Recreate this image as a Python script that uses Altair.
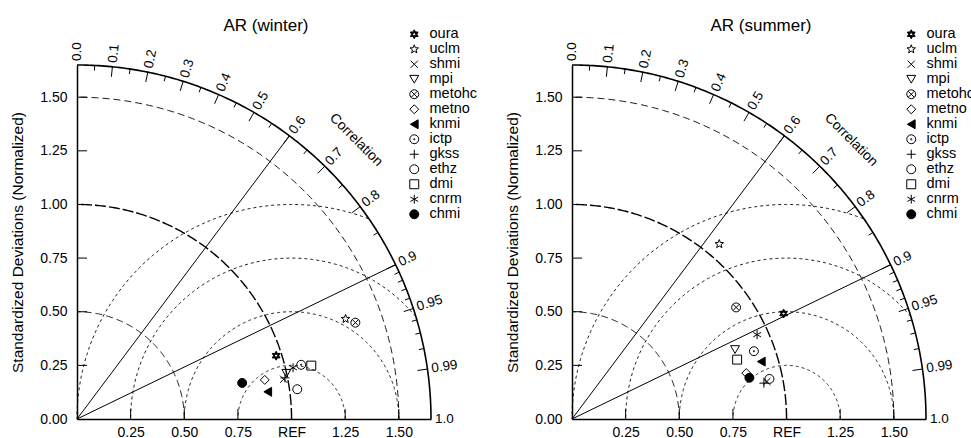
import math
import altair as alt
import pandas as pd

FONT = "Liberation Sans"
R = 1.65  # outer radius of the Taylor diagram (data units)

# ---------------- data ----------------
models = ["oura", "uclm", "shmi", "mpi", "metohc", "metno", "knmi",
          "ictp", "gkss", "ethz", "dmi", "cnrm", "chmi"]

winter_std = [0.974, 1.336, 0.981, 0.999, 1.373, 0.894, 0.898,
              1.075, 0.988, 1.036, 1.120, 1.035, 0.788]
winter_corr = [0.953, 0.937, 0.982, 0.977, 0.945, 0.979, 0.990,
               0.972, 0.981, 0.991, 0.975, 0.973, 0.977]

summer_std = [1.102, 1.066, 0.925, 0.826, 0.925, 0.840, 0.922,
              0.905, 0.910, 0.939, 0.818, 0.948, 0.849]
summer_corr = [0.895, 0.644, 0.982, 0.920, 0.827, 0.967, 0.957,
               0.937, 0.983, 0.980, 0.941, 0.910, 0.974]

std_arcs_thin = [0.5, 1.5]
std_arc_ref = [1.0]
rms_arcs = [0.25, 0.5, 0.75, 1.0]
radial_corr = [0.6, 0.9]
major_corr = [0.1, 0.2, 0.3, 0.4, 0.5, 0.6, 0.7, 0.8, 0.9, 0.95, 0.99]
minor_corr = [0.05, 0.15, 0.25, 0.35, 0.45, 0.55, 0.65, 0.75, 0.85,
              0.91, 0.92, 0.93, 0.94, 0.96, 0.97, 0.98]
label_corr = [0.0, 0.1, 0.2, 0.3, 0.4, 0.5, 0.6, 0.7, 0.8, 0.9, 0.95, 0.99, 1.0]
label_text = ["0.0", "0.1", "0.2", "0.3", "0.4", "0.5", "0.6", "0.7", "0.8",
              "0.9", "0.95", "0.99", "1.0"]
x_ticks = [0.25, 0.5, 0.75, 1.0, 1.25, 1.5]
y_ticks = [0.0, 0.25, 0.5, 0.75, 1.0, 1.25, 1.5]

# ---------------- marker shapes ----------------
def _poly(points):
    return "M" + "L".join(f"{x:.3f},{y:.3f}" for x, y in points) + "Z"

# bold hexagram: star outline with a reversed inner hexagon as a hole
_outer = []
for i in range(6):
    a1 = math.radians(-90 + 60 * i)
    a2 = math.radians(-60 + 60 * i)
    _outer.append((math.cos(a1), math.sin(a1)))
    _outer.append((0.577 * math.cos(a2), 0.577 * math.sin(a2)))
_hole = [(0.36 * math.cos(math.radians(-60 + 60 * i)),
          0.36 * math.sin(math.radians(-60 + 60 * i))) for i in range(6)][::-1]
HEX = _poly(_outer) + _poly(_hole)

_star = []
for i in range(10):
    a = -math.pi / 2 + i * math.pi / 5
    rr = 1.0 if i % 2 == 0 else 0.42
    _star.append((rr * math.cos(a), rr * math.sin(a)))
STAR = _poly(_star)
XMARK = "M-0.8,-0.8L0.8,0.8M-0.8,0.8L0.8,-0.8"
CIRC = "M-1,0A1,1,0,1,0,1,0A1,1,0,1,0,-1,0Z"
CIRCX = CIRC + "M-0.68,-0.68L0.68,0.68M-0.68,0.68L0.68,-0.68"
CIRCDOT = CIRC + "M-0.15,0A0.15,0.15,0,1,0,0.15,0A0.15,0.15,0,1,0,-0.15,0Z"
PLUS = "M-1,0L1,0M0,-1L0,1"
ASTER = "M0,-1L0,1M-0.866,-0.5L0.866,0.5M-0.866,0.5L0.866,-0.5"

shape_range = [HEX, STAR, XMARK, "triangle-down", CIRCX, "diamond",
               "triangle-left", CIRCDOT, PLUS, "circle", "square", ASTER, "circle"]
fill_range = ["black", "transparent", "transparent", "transparent",
              "transparent", "transparent", "black", "transparent",
              "transparent", "transparent", "transparent", "transparent", "black"]
stroke_range = ["black"] * len(models)

XS = alt.Scale(domain=[0, R], nice=False, zero=False)
YS = alt.Scale(domain=[0, R], nice=False, zero=False)

XAXIS = alt.Axis(values=x_ticks, ticks=False, grid=False, title=None,
                 labelExpr="datum.value == 1 ? 'REF' : format(datum.value, '.2f')",
                 labelFont=FONT, labelFontSize=14, labelColor="black",
                 labelPadding=6, domainColor="black", domainWidth=1.5,
                 labelFlush=False, labelOverlap=False)
YAXIS = alt.Axis(values=y_ticks, ticks=False, grid=False, format=".2f",
                 title="Standardized Deviations (Normalized)",
                 titleFont=FONT, titleFontSize=15.5, titleFontWeight="normal",
                 titleColor="black", titlePadding=14,
                 labelFont=FONT, labelFontSize=14, labelColor="black",
                 labelPadding=10, domainColor="black", domainWidth=1.5,
                 labelFlush=False, labelOverlap=False)


def xy(xf, yf):
    return dict(x=alt.X(xf, type="quantitative", scale=XS, axis=XAXIS),
                y=alt.Y(yf, type="quantitative", scale=YS, axis=YAXIS))


def arc_layer(radii, width, dash, steps=180):
    ch = alt.Chart(pd.DataFrame({"r": radii})).transform_calculate(
        k=f"sequence(0, {steps + 1})"
    ).transform_flatten(["k"]).transform_calculate(
        t=f"datum.k*PI/(2*{steps})",
        x="datum.r*cos(datum.t)",
        y="datum.r*sin(datum.t)",
    )
    kw = dict(color="black", strokeWidth=width)
    if dash:
        kw["strokeDash"] = dash
    return ch.mark_line(**kw).encode(**xy("x", "y"), detail="r:N", order="k:Q")


def panel(title, std, corr, legend_x):
    outer = arc_layer([R], 1.6, None)
    thin = arc_layer(std_arcs_thin, 0.9, [7, 4])
    ref = arc_layer(std_arc_ref, 1.4, [11, 3])

    rms = alt.Chart(pd.DataFrame({"r": rms_arcs})).transform_calculate(
        k="sequence(0, 361)"
    ).transform_flatten(["k"]).transform_calculate(
        t="datum.k*PI/360",
        x="1 + datum.r*cos(datum.t)",
        y="datum.r*sin(datum.t)",
    ).transform_filter(f"datum.x*datum.x + datum.y*datum.y <= {R*R}").mark_line(
        color="black", strokeWidth=0.9, strokeDash=[3, 3]
    ).encode(**xy("x", "y"), detail="r:N", order="k:Q")

    radial = alt.Chart(pd.DataFrame({"c": radial_corr})).transform_calculate(
        x0="0", y0="0",
        x1=f"{R}*datum.c", y1=f"{R}*sqrt(1-datum.c*datum.c)",
    ).mark_rule(color="black", strokeWidth=1).encode(
        **xy("x0", "y0"), x2="x1:Q", y2="y1:Q")

    def tick_layer(vals, length):
        return alt.Chart(pd.DataFrame({"c": vals})).transform_calculate(
            s="sqrt(1-datum.c*datum.c)",
            x0=f"{R}*datum.c", y0=f"{R}*datum.s",
            x1=f"{R - length}*datum.c", y1=f"{R - length}*datum.s",
        ).mark_rule(color="black", strokeWidth=1).encode(
            **xy("x0", "y0"), x2="x1:Q", y2="y1:Q")

    major = tick_layer(major_corr, 0.047)
    minor = tick_layer(minor_corr, 0.024)

    xt = alt.Chart(pd.DataFrame({"v": x_ticks})).transform_calculate(
        y0="0", y1="0.047").mark_rule(color="black", strokeWidth=1).encode(
        **xy("v", "y0"), y2="y1:Q")
    yt = alt.Chart(pd.DataFrame({"v": y_ticks[1:]})).transform_calculate(
        x0="0", x1="0.047").mark_rule(color="black", strokeWidth=1).encode(
        **xy("x0", "v"), x2="x1:Q")

    labels = alt.Chart(pd.DataFrame({"c": label_corr, "lab": label_text})).transform_calculate(
        th="acos(datum.c)",
        x=f"{R}*datum.c", y=f"{R}*sin(datum.th)",
        ang="(360 - datum.th*180/PI) % 360",
    ).mark_text(align="left", baseline="middle", dx=4, font=FONT,
                fontSize=13.5, color="black").encode(
        **xy("x", "y"), text="lab:N", angle=alt.Angle("ang:Q", scale=None))

    corr_title = alt.Chart(pd.DataFrame({"t": ["Correlation"], "r": [1.84], "a": [45.0]})).transform_calculate(
        x="datum.r*cos(datum.a*PI/180)", y="datum.r*sin(datum.a*PI/180)",
        ang="90 - datum.a",
    ).mark_text(align="center", baseline="middle", font=FONT, fontSize=14,
                color="black").encode(**xy("x", "y"), text="t:N",
                                      angle=alt.Angle("ang:Q", scale=None))

    ttl = alt.Chart(pd.DataFrame({"t": [title]})).mark_text(
        align="center", baseline="middle", font=FONT, fontSize=17, color="black"
    ).encode(text="t:N", x=alt.value(189), y=alt.value(-39))

    leg = alt.Legend(title=None, orient="none", legendX=legend_x, legendY=-38,
                     labelFont=FONT, labelFontSize=14.5, labelColor="black",
                     symbolSize=80, symbolStrokeColor="black", symbolStrokeWidth=1,
                     rowPadding=0, labelOffset=8, padding=0, symbolOpacity=1)

    pts = alt.Chart(pd.DataFrame({"model": models, "std": std, "corr": corr})).transform_calculate(
        x="datum.std*datum.corr",
        y="datum.std*sqrt(1-datum.corr*datum.corr)",
    ).mark_point(filled=True, opacity=1, size=80, strokeWidth=1).encode(
        **xy("x", "y"),
        shape=alt.Shape("model:N", scale=alt.Scale(domain=models, range=shape_range), legend=leg),
        fill=alt.Fill("model:N", scale=alt.Scale(domain=models, range=fill_range), legend=leg),
        stroke=alt.Stroke("model:N", scale=alt.Scale(domain=models, range=stroke_range), legend=leg),
    )

    return alt.layer(outer, thin, ref, rms, radial, major, minor, xt, yt,
                     labels, corr_title, ttl, pts).properties(width=354, height=354)


left = panel("AR (winter)", winter_std, winter_corr, 330)
right = panel("AR (summer)", summer_std, summer_corr, 332)

chart = alt.hconcat(left, right, spacing=141, bounds="flush").resolve_scale(
    x="independent", y="independent", shape="independent", fill="independent",
    stroke="independent"
).resolve_legend(shape="independent", fill="independent", stroke="independent").properties(
    padding={"left": 10, "top": 17, "right": -4, "bottom": 0}
).configure_view(stroke=None)

chart.save("out.html", embed_options={"renderer": "svg", "actions": False})
